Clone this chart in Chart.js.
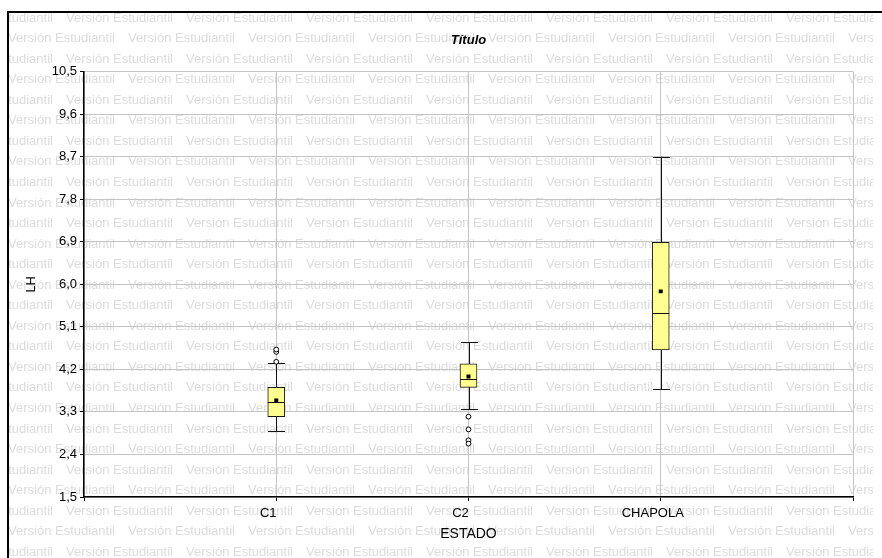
<!DOCTYPE html>
<html>
<head>
<meta charset="utf-8">
<title>Título</title>
<script src="https://cdn.jsdelivr.net/npm/chart.js@4.4.1/dist/chart.umd.min.js"></script>
<style>
  body { margin: 0; background: #fff; }
  #wrap { width: 882px; height: 558px; }
</style>
</head>
<body>
<div id="wrap"><canvas id="boxChart" width="882" height="558"></canvas></div>
<script>
// categorias del eje X y su posicion en la escala lineal
const categories = ["C1", "C2", "CHAPOLA"];
const xPositions = [1, 2, 3];

// resumen de cada caja (LH)
const q1Values = [3.20, 3.82, 4.61];
const medianValues = [3.50, 3.99, 5.39];
const q3Values = [3.82, 4.32, 6.89];
const whiskerLow = [2.90, 3.36, 3.78];
const whiskerHigh = [4.34, 4.78, 8.70];
const meanValues = [3.54, 4.05, 5.85];
const outlierValues = [[4.36, 4.57, 4.62], [3.20, 2.93, 2.70, 2.63], []];

// etiquetas de los ejes
const yTicks = [1.5, 2.4, 3.3, 4.2, 5.1, 6.0, 6.9, 7.8, 8.7, 9.6, 10.5];
const yTickLabels = ["1,5", "2,4", "3,3", "4,2", "5,1", "6,0", "6,9", "7,8", "8,7", "9,6", "10,5"];
const xTicks = [0, 1, 2, 3, 4];
const xTickLabels = ["", "C1", "C2", "CHAPOLA", ""];

const FONT = "'Liberation Sans', Arial, sans-serif";
const BOX_W = 17;

// fondo blanco, marca de agua y marco exterior
const backgroundPlugin = {
  id: "background",
  beforeDraw(chart) {
    const ctx = chart.ctx;
    ctx.save();
    ctx.fillStyle = "#fff";
    ctx.fillRect(0, 0, chart.width, chart.height);
    ctx.beginPath();
    ctx.rect(9, 13, 864, chart.height - 13);
    ctx.clip();
    ctx.font = "13px " + FONT;
    ctx.fillStyle = "#dcdcdc";
    ctx.textBaseline = "middle";
    for (let i = 0; i < 28; i++) {
      const y = 18 + i * 20.55;
      const start = i % 2 === 0 ? -54 : 8;
      for (let x = start; x < chart.width; x += 120) {
        ctx.fillText("Versión Estudiantil", x, y);
      }
    }
    ctx.restore();

    ctx.save();
    ctx.strokeStyle = "#000";
    ctx.lineWidth = 2;
    ctx.beginPath();
    ctx.moveTo(8, chart.height + 2);
    ctx.lineTo(8, 12);
    ctx.lineTo(chart.width + 2, 12);
    ctx.stroke();
    ctx.restore();
  }
};

// bigotes detras de las cajas, medianas encima
const whiskerPlugin = {
  id: "whiskers",
  beforeDatasetsDraw(chart) {
    const ctx = chart.ctx;
    const xs = chart.scales.x, ys = chart.scales.y;
    ctx.save();
    ctx.strokeStyle = "#111";
    ctx.lineWidth = 1;
    xPositions.forEach((xv, i) => {
      const x = Math.round(xs.getPixelForValue(xv)) + 0.5;
      const yLo = ys.getPixelForValue(whiskerLow[i]);
      const yHi = ys.getPixelForValue(whiskerHigh[i]);
      ctx.beginPath();
      ctx.moveTo(x, yLo);
      ctx.lineTo(x, yHi);
      ctx.moveTo(x - BOX_W / 2, Math.round(yLo) + 0.5);
      ctx.lineTo(x + BOX_W / 2, Math.round(yLo) + 0.5);
      ctx.moveTo(x - BOX_W / 2, Math.round(yHi) + 0.5);
      ctx.lineTo(x + BOX_W / 2, Math.round(yHi) + 0.5);
      ctx.stroke();
    });
    ctx.restore();
  },
  afterDatasetsDraw(chart) {
    const ctx = chart.ctx;
    const meta = chart.getDatasetMeta(2);
    const ys = chart.scales.y;
    ctx.save();
    ctx.strokeStyle = "#111";
    ctx.lineWidth = 1;
    meta.data.forEach((bar, i) => {
      const y = Math.round(ys.getPixelForValue(medianValues[i])) + 0.5;
      ctx.beginPath();
      ctx.moveTo(bar.x - bar.width / 2, y);
      ctx.lineTo(bar.x + bar.width / 2, y);
      ctx.stroke();
    });
    ctx.restore();
  }
};

const outlierPoints = [];
outlierValues.forEach((list, i) => {
  list.forEach(v => outlierPoints.push({ x: xPositions[i], y: v }));
});

new Chart(document.getElementById("boxChart"), {
  type: "bar",
  plugins: [backgroundPlugin, whiskerPlugin],
  data: {
    datasets: [
      {
        type: "scatter",
        label: "Media",
        data: xPositions.map((x, i) => ({ x: x, y: meanValues[i] })),
        pointStyle: "rect",
        pointRadius: 2.8,
        backgroundColor: "#000",
        borderWidth: 0
      },
      {
        type: "scatter",
        label: "Atipicos",
        data: outlierPoints,
        pointStyle: "circle",
        pointRadius: 2.4,
        backgroundColor: "#fff",
        borderColor: "#000",
        borderWidth: 1
      },
      {
        label: "Caja",
        data: xPositions.map((x, i) => ({ x: x, y: [q1Values[i], q3Values[i]] })),
        backgroundColor: "#ffff8f",
        borderColor: "#1a1a1a",
        borderWidth: 1,
        borderSkipped: false,
        barThickness: BOX_W
      }
    ]
  },
  options: {
    responsive: false,
    animation: false,
    layout: { padding: { left: 20, right: 29, top: 0, bottom: 0 } },
    plugins: {
      legend: { display: false },
      tooltip: { enabled: false },
      title: {
        display: true,
        text: "Título",
        fullSize: false,
        color: "#000",
        font: { family: FONT, size: 13, weight: "bold", style: "italic" },
        padding: { top: 33, bottom: 23 }
      }
    },
    scales: {
      x: {
        type: "linear",
        min: 0,
        max: 4,
        offset: false,
        afterBuildTicks: (scale) => { scale.ticks = xTicks.map(v => ({ value: v })); },
        afterFit: (scale) => { scale.height = 61; },
        ticks: {
          callback: (v, i) => xTickLabels[i],
          autoSkip: false,
          maxRotation: 0,
          labelOffset: -8,
          padding: 5,
          color: "#000",
          font: { family: FONT, size: 13 }
        },
        grid: { offset: false, color: "#c4c4c4", tickColor: "#000", tickLength: 4 },
        border: { color: "#000", width: 1.5 },
        title: {
          display: true,
          text: "ESTADO",
          color: "#000",
          font: { family: FONT, size: 14 },
          padding: { top: 0, bottom: 15 }
        }
      },
      y: {
        type: "linear",
        min: 1.5,
        max: 10.5,
        afterBuildTicks: (scale) => { scale.ticks = yTicks.map(v => ({ value: v })); },
        afterFit: (scale) => { scale.width = 64; },
        ticks: {
          callback: (v, i) => yTickLabels[i],
          padding: 3,
          color: "#000",
          font: { family: FONT, size: 13 }
        },
        grid: { color: "#c4c4c4", tickColor: "#000", tickLength: 4 },
        border: { color: "#000", width: 1.5 },
        title: {
          display: true,
          text: "LH",
          color: "#000",
          font: { family: FONT, size: 13 },
          padding: 4
        }
      }
    }
  }
});
</script>
</body>
</html>
